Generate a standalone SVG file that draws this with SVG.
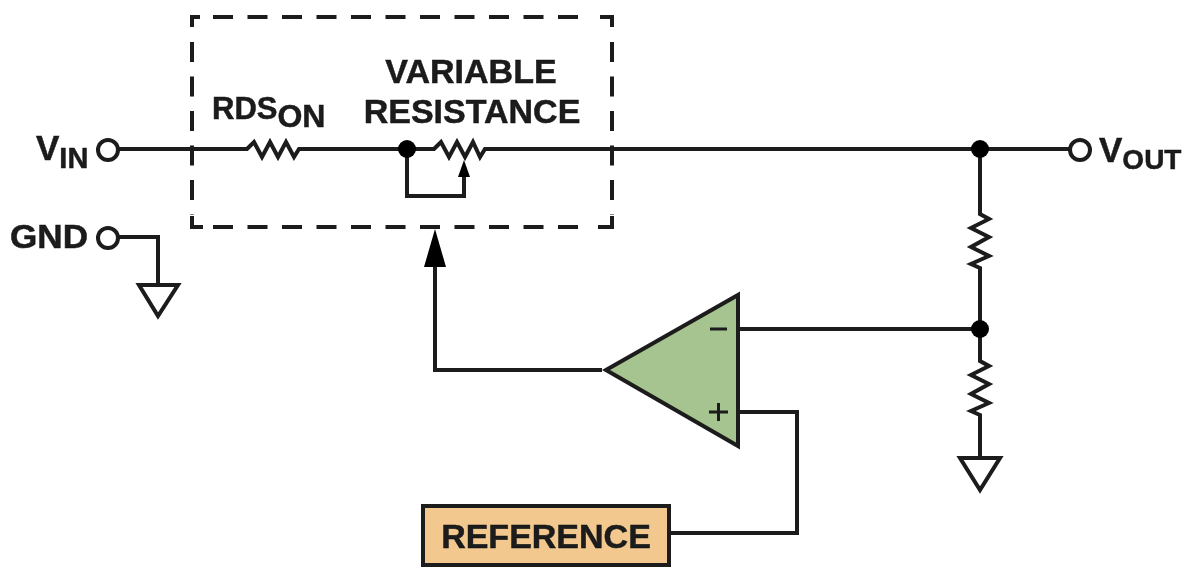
<svg xmlns="http://www.w3.org/2000/svg" width="1193" height="567" viewBox="0 0 1193 567">
<defs><filter id="soft" x="-2%" y="-2%" width="104%" height="104%"><feGaussianBlur stdDeviation="0.7"/></filter></defs>
<style>
.w{fill:none;stroke:#1a1a1a;stroke-width:4;stroke-linejoin:miter}
.t{font-family:"Liberation Sans",Arial,sans-serif;font-weight:700;fill:#1a1a1a;stroke:#1a1a1a;stroke-width:.5;font-size:34px}
.s{font-size:29px}
.d{fill:#000}
.o{fill:#fff;stroke:#1a1a1a;stroke-width:4}
.b{fill:none;stroke:#1a1a1a;stroke-width:4;stroke-dasharray:20 14.500}
</style>
<rect width="1193" height="567" fill="#fff"/>
<g filter="url(#soft)">
<g id="connectors">
<path class="w" d="M118 149H247L254 142L262 157L270 142L278 157L286 142L294 157L299 149H406"/>
<path class="w" d="M406 149H434L441 142L449 157L457 142L465 157L473 142L480 157L485 149H980H1070"/>
<path class="w" d="M407 149V196H464V175"/>
<path class="w" d="M118 237H158V285"/>
<path class="w" d="M980 149V214L989 219L971 228L989 237L971 247L989 256L971 264L980 268V329V361L989 366L971 375L989 384L971 394L989 403L971 411L980 415V458"/>
<path class="w" d="M738 329H980"/>
<path class="w" d="M602 370H435V265"/>
<path class="w" d="M738 412H797V533H669"/>
<path d="M435 229L446 267H424Z" fill="#000"/>
<path d="M464 160L470 177H458Z" fill="#000"/>
</g>
<g id="dashed-box">
<path class="w" d="M192 27V17H200"/>
<path class="b" d="M213 17H590"/>
<path class="w" d="M600 17H612V27"/>
<path class="b" d="M192 42V215"/>
<path class="b" d="M612 42V215"/>
<path class="w" d="M192 216V227H203"/>
<path class="b" d="M213 227H590"/>
<path class="w" d="M598 227H612V216"/>
</g>
<g id="vin"><circle class="o" cx="108" cy="150" r="10"/><text class="t" x="36" y="160" style="font-size:35px">V<tspan class="s" dy="8">IN</tspan></text></g>
<g id="gnd"><circle class="o" cx="108" cy="238" r="10"/><text class="t" x="10" y="248" style="font-size:33px" textLength="78" lengthAdjust="spacingAndGlyphs">GND</text></g>
<g id="gnd-symbol-1"><path class="w" d="M139 285H178L158 316Z"/></g>
<g id="rdson"><text class="t" x="212" y="119" style="font-size:31px">RDS<tspan dy="8" style="font-size:32px">ON</tspan></text></g>
<g id="variable-resistance"><text class="t" x="471" y="83" text-anchor="middle">VARIABLE</text><text class="t" x="472" y="123" text-anchor="middle">RESISTANCE</text></g>
<g id="junction-1"><circle class="d" cx="407" cy="149" r="9"/></g>
<g id="vout"><circle class="o" cx="1080" cy="150" r="10"/><text class="t" x="1099" y="162" style="font-size:35px">V<tspan dy="7" style="font-size:28px">OUT</tspan></text></g>
<g id="junction-2"><circle class="d" cx="980" cy="149" r="9"/></g>
<g id="junction-3"><circle class="d" cx="980" cy="329" r="9"/></g>
<g id="gnd-symbol-2"><path class="w" d="M960 458H1000L980 490Z"/></g>
<g id="amplifier"><path d="M606 370L738 295V446Z" fill="#a5c48f" stroke="#1a1a1a" stroke-width="4"/><path d="M710 329H727M709 412H728M718.500 403V421" fill="none" stroke="#1a1a1a" stroke-width="3"/></g>
<g id="reference"><rect x="423" y="506" width="246" height="59" fill="#f2c88f" stroke="#1a1a1a" stroke-width="4"/><text class="t" x="546" y="548" text-anchor="middle">REFERENCE</text></g>
</g>
</svg>
